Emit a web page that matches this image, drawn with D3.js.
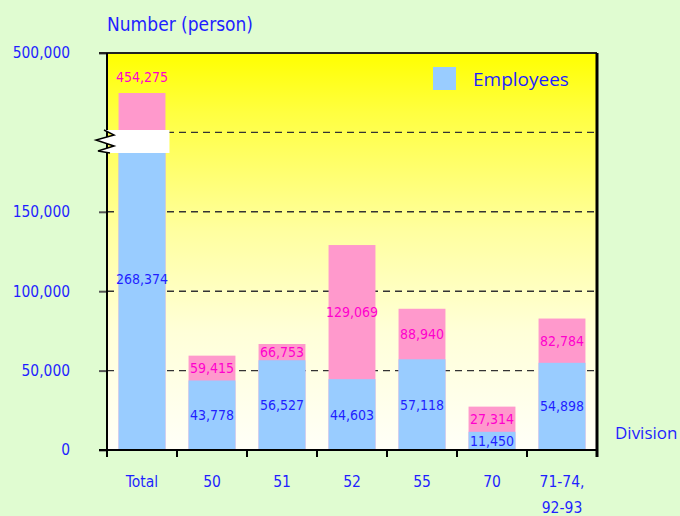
<!DOCTYPE html>
<html><head><meta charset="utf-8">
<script src="https://cdn.jsdelivr.net/npm/d3@7"></script>
<style>body{margin:0;background:#e0fcd1;} svg{display:block}</style>
</head><body><svg id="c" width="680" height="516"></svg>
<script>
// ---- data ----
const categories = ["Total", "50", "51", "52", "55", "70", "71-74,\n92-93"];
const totalPersons = [454275, 59415, 66753, 129069, 88940, 27314, 82784];
const employees = [268374, 43778, 56527, 44603, 57118, 11450, 54898];
const yTickValues = [0, 50000, 100000, 150000, 500000];
const gridValues = [50000, 100000, 150000, 200000];
const breakRange = [187000, 412000];
const yTitle = "Number (person)";
const xTitle = "Division";
const legendLabel = "Employees";

// ---- layout ----
const svg = d3.select("#c");
const m = {left: 107, top: 53, right: 83, bottom: 66};
const W = 680 - m.left - m.right, H = 516 - m.top - m.bottom;
const blueText = "#1f1fff", pinkText = "#ff00cc";
const blueBar = "#99ccff", pinkBar = "#ff99cc";
const numFont = "'DejaVu Sans Condensed','DejaVu Sans',sans-serif";
const catFont = "'DejaVu Sans Condensed','DejaVu Sans',sans-serif";
const txtFont = "'Open Sans','Noto Sans',sans-serif";

const defs = svg.append("defs");
const grad = defs.append("linearGradient").attr("id", "bg").attr("x1", 0).attr("y1", 0).attr("x2", 0).attr("y2", 1);
[[0, "#ffff00"], [0.15, "#ffff40"], [0.45, "#ffffa0"], [0.7, "#ffffd8"], [1, "#fffff8"]]
  .forEach(([o, c]) => grad.append("stop").attr("offset", o).attr("stop-color", c));

const g = svg.append("g").attr("transform", `translate(${m.left},${m.top})`);
g.append("rect").attr("width", W).attr("height", H).attr("fill", "url(#bg)");

// lower linear segment runs 0..250,000; above the break the scale is compressed
const yLow = d3.scaleLinear().domain([0, 250000]).range([H, 0]);
const y = d3.scaleLinear()
  .domain([0, 200000, breakRange[1], 500000])
  .range([H, yLow(200000), yLow(201500), 0]);

const x = d3.scaleBand().domain(categories).range([0, W]).paddingInner(0.33).paddingOuter(0.165);

// gridlines
g.selectAll(".grid").data(gridValues).join("line")
  .attr("x1", 0).attr("x2", W).attr("y1", d => y(d)).attr("y2", d => y(d))
  .attr("stroke", "#333").attr("stroke-width", 1.4).attr("stroke-dasharray", "7,5");

const rows = categories.map((c, i) => ({c, total: totalPersons[i], emp: employees[i], broken: totalPersons[i] > breakRange[0]}));

g.selectAll(".pink").data(rows).join("rect")
  .attr("x", d => x(d.c)).attr("width", x.bandwidth())
  .attr("y", d => y(d.total)).attr("height", d => H - y(d.total)).attr("fill", pinkBar);
g.selectAll(".blue").data(rows).join("rect")
  .attr("x", d => x(d.c)).attr("width", x.bandwidth())
  .attr("y", d => y(d.emp)).attr("height", d => H - y(d.emp)).attr("fill", blueBar);

const fmt = d3.format(",");
// value labels
g.selectAll(".pl").data(rows).join("text")
  .attr("x", d => x(d.c) + x.bandwidth() / 2)
  .attr("y", d => d.broken ? y(d.total) - 16 : (y(d.total) + y(d.emp)) / 2)
  .attr("dy", "0.36em").attr("text-anchor", "middle")
  .attr("font-family", numFont).attr("font-size", 14).attr("fill", pinkText)
  .text(d => fmt(d.total));
g.selectAll(".bl").data(rows).join("text")
  .attr("x", d => x(d.c) + x.bandwidth() / 2)
  .attr("y", d => d.broken ? y(0) + (y(breakRange[0]) - y(0)) * 0.575 : (y(d.emp) + H) / 2)
  .attr("dy", "0.36em").attr("text-anchor", "middle")
  .attr("font-family", numFont).attr("font-size", 14).attr("fill", blueText)
  .text(d => fmt(d.emp));

// y axis
const ya = g.append("g").call(d3.axisLeft(y).tickValues(yTickValues).tickSize(8).tickPadding(29).tickFormat(fmt));
ya.select(".domain").remove();
ya.selectAll(".tick line").attr("stroke", "#555").attr("stroke-width", 2);
ya.selectAll(".tick text").attr("font-family", numFont).attr("font-size", 15.4).attr("fill", blueText);

// x axis labels
const xa = g.append("g").attr("transform", `translate(0,${H})`)
  .call(d3.axisBottom(x).tickSize(0).tickPadding(0).tickFormat(""));
xa.select(".domain").remove();
xa.selectAll(".tick").each(function(d) {
  const t = d3.select(this).append("text").attr("fill", blueText)
    .attr("font-family", catFont).attr("font-size", 15.5).attr("text-anchor", "middle");
  d.split("\n").forEach((line, i) => t.append("tspan").attr("x", 0).attr("y", 37 + i * 26).text(line));
});
// category boundary ticks
g.selectAll(".bt").data(d3.range(categories.length + 1)).join("line")
  .attr("x1", i => i * x.step()).attr("x2", i => i * x.step())
  .attr("y1", H).attr("y2", H + 7).attr("stroke", "#000").attr("stroke-width", 2);

// frame
g.append("line").attr("x1", -8).attr("x2", W).attr("y1", 0).attr("y2", 0).attr("stroke", "#222").attr("stroke-width", 2);
g.append("line").attr("x1", W).attr("x2", W).attr("y1", 0).attr("y2", H + 7).attr("stroke", "#000").attr("stroke-width", 3);
g.append("line").attr("x1", 0).attr("x2", 0).attr("y1", 0).attr("y2", H + 7).attr("stroke", "#000").attr("stroke-width", 2);
g.append("line").attr("x1", -8).attr("x2", W).attr("y1", H).attr("y2", H).attr("stroke", "#000").attr("stroke-width", 2);

// break symbol
const bx0 = x(categories[0]), bx1 = bx0 + x.bandwidth() + 4;
const yt = y(breakRange[1]), yb = y(breakRange[0]);
const zig = [[-3, yt], [7, yt + 5], [-11, yt + 10], [7, yt + 16], [-9, yt + 21], [3, yb]];
g.append("path")
  .attr("d", d3.line()([[bx1, yt], ...zig, [bx1, yb]]) + "Z")
  .attr("fill", "#fff");
g.append("path").attr("d", d3.line()(zig)).attr("fill", "none").attr("stroke", "#000").attr("stroke-width", 1.5);

// titles
svg.append("text").attr("x", 107).attr("y", 31).attr("font-family", numFont).attr("font-size", 19)
  .attr("fill", blueText).text(yTitle);
svg.append("text").attr("x", 615).attr("y", 439).attr("font-family", txtFont).attr("font-size", 17)
  .attr("fill", blueText).text(xTitle);
// legend
svg.append("rect").attr("x", 433).attr("y", 67).attr("width", 23).attr("height", 23).attr("fill", blueBar);
svg.append("text").attr("x", 473).attr("y", 86).attr("font-family", txtFont).attr("font-size", 19)
  .attr("fill", blueText).text(legendLabel);
</script></body></html>
